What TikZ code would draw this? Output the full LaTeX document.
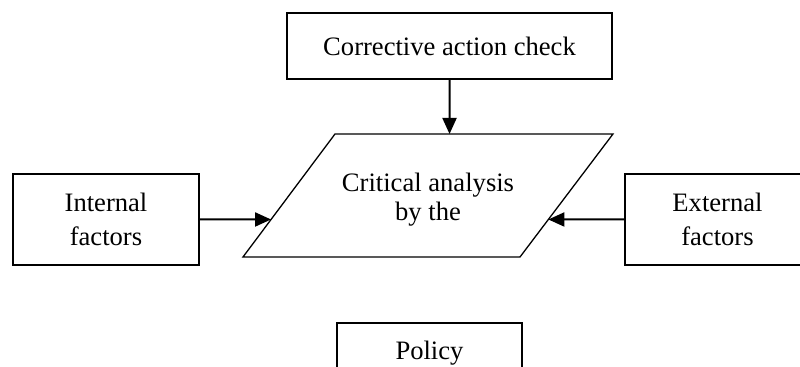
\documentclass[tikz,border=0pt]{standalone}
\usepackage{fontspec}
\setmainfont{Liberation Serif}
\usetikzlibrary{positioning,calc,arrows.meta}

\tikzset{
	box/.style={draw,line width=0.65pt,align=center,inner sep=2pt,font=\fontsize{13.3}{17}\selectfont},
	arr/.style={-{Triangle[length=8pt,width=7pt]},line width=1pt}
}

\begin{document}
\begin{tikzpicture}[x=0.5pt,y=-0.5pt]
\useasboundingbox (0,0) rectangle (800,367);

% boxes
\node[box,minimum width=162.5pt,minimum height=33pt](chk) at (449.5,46) {Corrective action check};
\node[box,minimum width=93pt,minimum height=45.5pt](intl) at (106,219.5) {Internal\\factors};
\node[box,minimum width=92.5pt,minimum height=45.5pt](extl) at (717.5,219.5) {External\\factors};
\node[box,minimum width=92.5pt,minimum height=30pt](pol) at (429.5,353) {Policy};

% parallelogram
\foreach \n/\x/\y in {pA/243/257,pB/520/257,pC/613/134,pD/335/134}
	\coordinate(\n) at (\x,\y);
\draw[line width=0.65pt](pA)--(pB)--(pC)--(pD)--cycle;
\node[align=center,font=\fontsize{13.3}{14.5}\selectfont](crit) at (428,200) {Critical analysis\\by the};

\coordinate(critN) at ($(pD)!0.412!(pC)$);
\coordinate(critW) at ($(pA)!0.305!(pD)$);
\coordinate(critE) at ($(pB)!0.305!(pC)$);

\draw[arr](chk.south)--(critN);
\draw[arr](intl.east)--(critW);
\draw[arr](extl.west)--(critE);
\end{tikzpicture}
\end{document}
